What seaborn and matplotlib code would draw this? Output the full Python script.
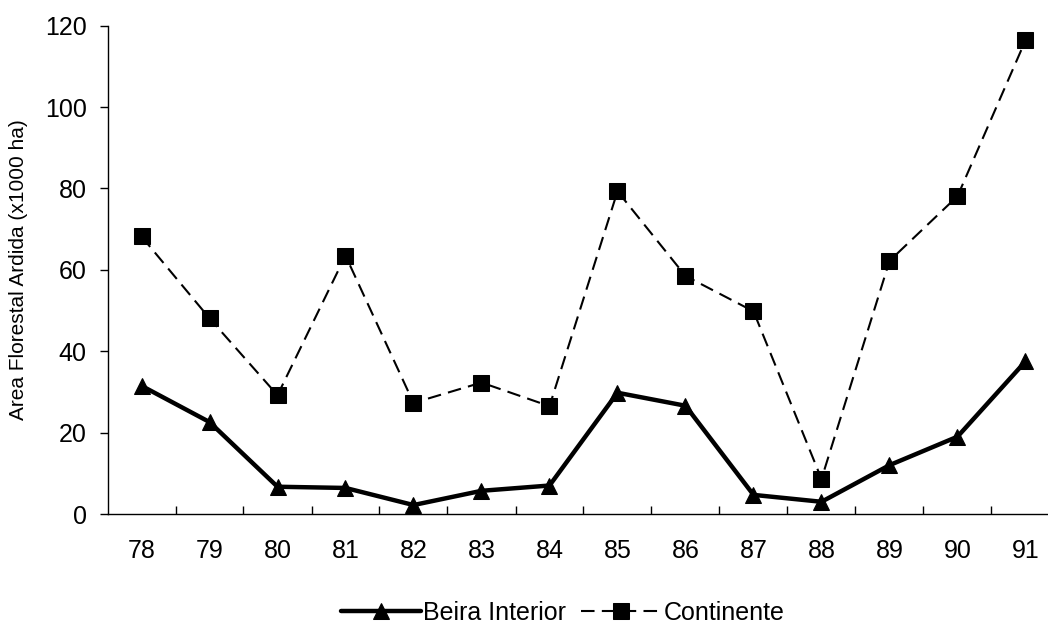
import numpy as np
import pandas as pd
import matplotlib
matplotlib.use('Agg')
import matplotlib.pyplot as plt
from matplotlib.ticker import FixedLocator
import seaborn as sns

# Data (area in 1000 ha)
years = ['78', '79', '80', '81', '82', '83', '84', '85', '86', '87', '88', '89', '90', '91']
beira = [31.5, 22.6, 6.7, 6.4, 2.2, 5.7, 7.0, 29.8, 26.6, 4.7, 3.0, 12.0, 19.0, 37.5]
continente = [68.2, 48.1, 29.2, 63.5, 27.3, 32.3, 26.5, 79.3, 58.5, 49.8, 8.6, 62.2, 78.1, 116.4]

pos = np.arange(len(years))
df = pd.DataFrame({
    'pos': np.concatenate([pos, pos]),
    'valor': beira + continente,
    'serie': ['Beira Interior'] * len(years) + ['Continente'] * len(years),
})

sns.set_style('white')
plt.rcParams['font.family'] = ['Liberation Sans', 'DejaVu Sans']
plt.rcParams['text.color'] = 'black'
plt.rcParams['axes.labelcolor'] = 'black'
plt.rcParams['xtick.color'] = 'black'
plt.rcParams['ytick.color'] = 'black'

fig = plt.figure(figsize=(10.48, 6.28), dpi=100)
ax = fig.add_axes([107.5 / 1048, 114 / 628, 952 / 1048, 488.3 / 628])

sns.lineplot(data=df[df['serie'] == 'Beira Interior'], x='pos', y='valor', ax=ax,
             color='black', linewidth=3.2, marker='^', markersize=11,
             markeredgecolor='black', label='Beira Interior')
sns.lineplot(data=df[df['serie'] == 'Continente'], x='pos', y='valor', ax=ax,
             color='black', linewidth=1.5, linestyle=(0, (6.5, 3.5)), marker='s',
             markersize=11, markeredgecolor='black', label='Continente')

ax.set_xlim(-0.5, len(years) - 0.5)
ax.set_ylim(0, 120)
ax.set_yticks(np.arange(0, 121, 20))
ax.set_xticks(pos)
ax.set_xticklabels(years)
ax.xaxis.set_minor_locator(FixedLocator(pos[:-1] + 0.5))

ax.tick_params(axis='x', which='major', length=0, pad=18, labelsize=18, labelcolor='black')
ax.tick_params(axis='x', which='minor', direction='in', length=6, width=1, color='black', bottom=True)
ax.tick_params(axis='y', which='major', direction='out', length=6, width=1, color='black',
               pad=9, labelsize=18, labelcolor='black', left=True)

for side in ['top', 'right']:
    ax.spines[side].set_visible(False)
for side in ['left', 'bottom']:
    ax.spines[side].set_color('black')
    ax.spines[side].set_linewidth(1.0)

ax.set_xlabel('')
ax.set_ylabel('Area Florestal Ardida (x1000 ha)', fontsize=15, labelpad=12, color='black')

ax.get_legend().remove()
handles, labels = ax.get_legend_handles_labels()
fig.legend(handles, labels, loc='center', bbox_to_anchor=(0.537, 0.024), ncol=2,
           frameon=False, fontsize=18, handlelength=3.2, handletextpad=0.1,
           columnspacing=0.6, borderpad=0, labelcolor='black')

fig.savefig('out.png', dpi=100)
